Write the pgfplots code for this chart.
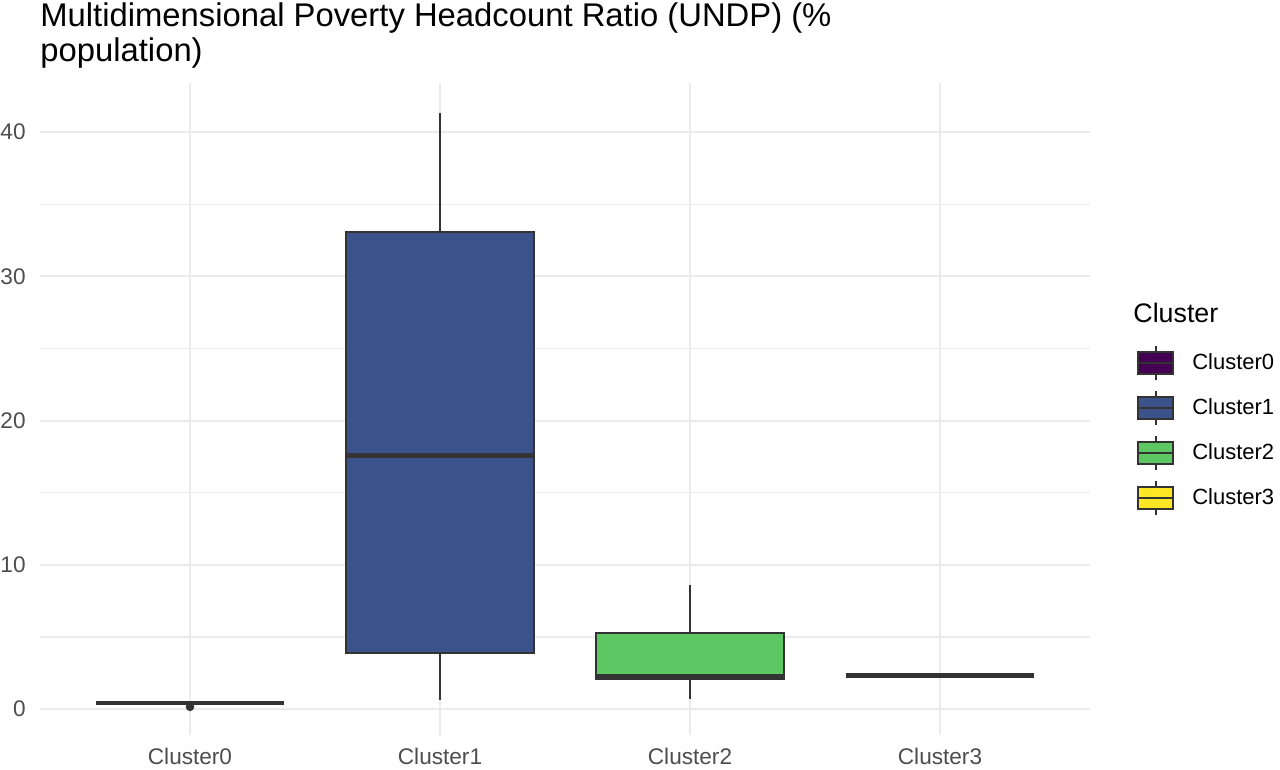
\documentclass[border=0pt]{standalone}
\usepackage{pgfplots}
\pgfplotsset{compat=1.18}
\usepgfplotslibrary{statistics}
\usepackage{fontspec}
\setmainfont{Liberation Sans}

\definecolor{ggline}{HTML}{333333}
\definecolor{gggrid}{HTML}{EBEBEB}
\definecolor{ggtext}{HTML}{4D4D4D}
\definecolor{cA}{HTML}{440154}
\definecolor{cB}{HTML}{3B528B}
\definecolor{cC}{HTML}{5DC863}
\definecolor{cD}{HTML}{FDE725}

\pgfplotsset{
  ggbox/.style={
    draw=ggline, fill=#1, line width=1pt, solid,
    boxplot/draw direction=y,
    boxplot/box extend=0.75,
    boxplot/whisker extend=0,
    boxplot/every median/.style={line width=2.4pt},
    mark=*, mark size=1.6pt, mark options={draw=ggline, fill=ggline},
    legend image code/.code={
      \draw[ggline, line width=0.9pt] (8.75pt,-8.5pt) -- (8.75pt,8.5pt);
      \draw[draw=ggline, fill=#1, line width=0.9pt] (0pt,-5.5pt) rectangle (17.5pt,5.5pt);
      \draw[ggline, line width=0.9pt] (0pt,0pt) -- (17.5pt,0pt);
    },
  },
}

\begin{document}
\begin{tikzpicture}
\useasboundingbox (-20pt,-17.5pt) rectangle (620pt,367.5pt);
\begin{axis}[
    at={(0pt,0pt)}, anchor=south west,
    scale only axis, width=525pt, height=326pt,
    xmin=0.4, xmax=4.6, ymin=-1.8, ymax=43.4,
    xtick={1,2,3,4},
    xticklabels={Cluster0,Cluster1,Cluster2,Cluster3},
    ytick={0,10,20,30,40},
    minor ytick={5,15,25,35},
    xmajorgrids, ymajorgrids, yminorgrids,
    major grid style={gggrid, line width=1pt},
    minor grid style={gggrid, line width=0.6pt},
    axis line style={draw=none},
    major tick length=0pt, minor tick length=0pt,
    tick style={draw=none},
    /pgf/number format/assume math mode=true,
    ticklabel style={font=\fontsize{11.3}{13.5}\selectfont, text=ggtext, inner sep=0pt},
    yticklabel style={xshift=-7pt},
    xticklabel style={yshift=-6.5pt},
    legend style={draw=none, fill=none, at={(rel axis cs:1.0448,0.598)}, anchor=north west,
      inner sep=0pt, row sep=4.5pt, column sep=7pt,
      font=\fontsize{11}{13}\selectfont},
    legend cell align=left,
]
%% Cluster0
\addplot[ggbox=cA, boxplot prepared={draw position=1,
    lower whisker=0.42, lower quartile=0.42, median=0.42,
    upper quartile=0.42, upper whisker=0.42}]
  table[row sep=\\, y index=0] {0.15\\};
%% Cluster1
\addplot[ggbox=cB, boxplot prepared={draw position=2,
    lower whisker=0.6, lower quartile=3.85, median=17.6,
    upper quartile=33.1, upper whisker=41.3}]
  coordinates {};
%% Cluster2
\addplot[ggbox=cC, boxplot prepared={draw position=3,
    lower whisker=0.7, lower quartile=2.1, median=2.25,
    upper quartile=5.25, upper whisker=8.6}]
  coordinates {};
%% Cluster3
\addplot[ggbox=cD, boxplot prepared={draw position=4,
    lower whisker=2.3, lower quartile=2.3, median=2.3,
    upper quartile=2.3, upper whisker=2.3}]
  coordinates {};
\legend{Cluster0,Cluster1,Cluster2,Cluster3}
\end{axis}
\node[anchor=base west, inner sep=0pt, font=\fontsize{16.4}{17.5}\selectfont] at (0pt,354pt)
  {Multidimensional Poverty Headcount Ratio (UNDP) (\%};
\node[anchor=base west, inner sep=0pt, font=\fontsize{16.4}{17.5}\selectfont] at (0pt,336.5pt)
  {population)};
\node[anchor=base west, inner sep=0pt, font=\fontsize{13.4}{16}\selectfont] at (546.5pt,206pt)
  {Cluster};
\end{tikzpicture}
\end{document}
